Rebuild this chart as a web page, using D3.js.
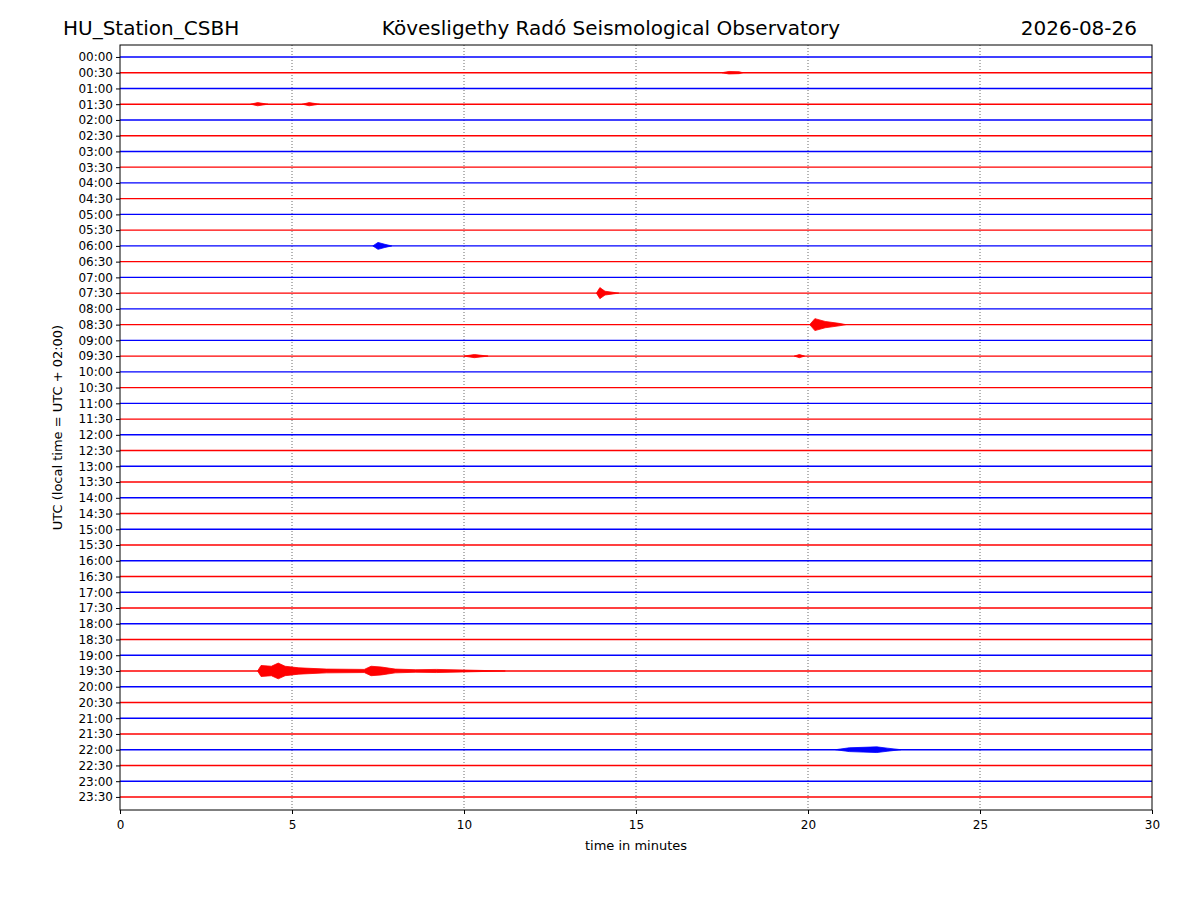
<!DOCTYPE html>
<html>
<head>
<meta charset="utf-8">
<script src="https://cdn.jsdelivr.net/npm/d3@7"></script>
<style>
  body { margin: 0; background: #fff; }
  text { font-family: "DejaVu Sans", sans-serif; }
</style>
</head>
<body>
<svg id="chart" width="1200" height="900"></svg>
<script>
// row labels, every 30 minutes
var rowLabels = d3.range(48).map(function (i) {
    var h = Math.floor(i / 2), m = (i % 2) * 30;
    return (h < 10 ? "0" : "") + h + ":" + (m ? "30" : "00");
});
var rowColors = ["blue", "red"];
var xTicks = [0, 5, 10, 15, 20, 25, 30];

// event envelopes: row, [minute, half amplitude in row units]
var events = [
    { row: 1,  env: [[17.5, 0], [17.7, 0.08], [18.0, 0.06], [18.1, 0]] },
    { row: 3,  env: [[3.8, 0], [4.0, 0.1], [4.3, 0]] },
    { row: 3,  env: [[5.3, 0], [5.5, 0.1], [5.8, 0]] },
    { row: 12, env: [[7.35, 0], [7.5, 0.22], [7.7, 0.1], [7.9, 0]] },
    { row: 15, env: [[13.85, 0], [13.95, 0.35], [14.1, 0.12], [14.5, 0]] },
    { row: 17, env: [[20.05, 0], [20.2, 0.38], [20.5, 0.2], [20.9, 0.08], [21.1, 0]] },
    { row: 19, env: [[10.0, 0], [10.3, 0.1], [10.7, 0]] },
    { row: 19, env: [[19.6, 0], [19.75, 0.1], [19.9, 0]] },
    { row: 39, env: [[4.0, 0], [4.1, 0.35], [4.4, 0.3], [4.6, 0.5], [4.8, 0.3], [5.2, 0.2],
                     [6.0, 0.12], [7.1, 0.1], [7.3, 0.3], [7.6, 0.25], [8.0, 0.12],
                     [8.6, 0.08], [9.2, 0.1], [10.0, 0.06], [11.2, 0]] },
    { row: 44, env: [[20.8, 0], [21.2, 0.12], [21.6, 0.15], [22.0, 0.18], [22.3, 0.1], [22.7, 0]] }
];

var svg = d3.select("#chart");
var pLeft = 120, pRight = 1152, pTop = 45, pBottom = 810;

var x = d3.scaleLinear().domain([0, 30]).range([pLeft, pRight]);
var y = d3.scaleLinear().domain([-0.76, 47.83]).range([pTop, pBottom]);

// vertical dotted grid
svg.append("g").selectAll("line")
    .data(xTicks.slice(1, -1))
    .join("line")
    .attr("x1", d => x(d)).attr("x2", d => x(d))
    .attr("y1", pTop).attr("y2", pBottom)
    .attr("stroke", "#444").attr("stroke-width", 0.8)
    .attr("stroke-dasharray", "1,2");

// traces
svg.append("g").selectAll("line")
    .data(rowLabels)
    .join("line")
    .attr("x1", pLeft).attr("x2", pRight)
    .attr("y1", (d, i) => y(i)).attr("y2", (d, i) => y(i))
    .attr("stroke", (d, i) => rowColors[i % 2])
    .attr("stroke-width", 1.4);

// event bursts
var rowH = y(1) - y(0);
var area = d3.area()
    .x(d => x(d[0]))
    .y0(d => -d[1] * rowH)
    .y1(d => d[1] * rowH);

svg.append("g").selectAll("path")
    .data(events)
    .join("path")
    .attr("transform", d => "translate(0," + y(d.row) + ")")
    .attr("d", d => area(d.env))
    .attr("fill", d => rowColors[d.row % 2])
    .attr("stroke", d => rowColors[d.row % 2])
    .attr("stroke-width", 0.8);

// frame
svg.append("rect")
    .attr("x", pLeft).attr("y", pTop)
    .attr("width", pRight - pLeft).attr("height", pBottom - pTop)
    .attr("fill", "none").attr("stroke", "#000").attr("stroke-width", 1);

// axes
var xAxis = svg.append("g")
    .attr("transform", "translate(0," + pBottom + ")")
    .call(d3.axisBottom(x).tickValues(xTicks).tickSize(4).tickPadding(6));
var yAxis = svg.append("g")
    .attr("transform", "translate(" + pLeft + ",0)")
    .call(d3.axisLeft(y).tickValues(d3.range(48)).tickFormat(i => rowLabels[i]).tickSize(4).tickPadding(3));
[xAxis, yAxis].forEach(function (a) {
    a.select(".domain").remove();
    a.attr("font-size", 12).attr("font-family", "DejaVu Sans");
    a.selectAll("text").attr("fill", "#000");
});

// titles
svg.append("text").attr("x", 63).attr("y", 35).style("font-size", "20px").text("HU_Station_CSBH");
svg.append("text").attr("x", 611).attr("y", 35).attr("text-anchor", "middle").style("font-size", "20px")
    .text("Kövesligethy Radó Seismological Observatory");
svg.append("text").attr("x", 1137).attr("y", 35).attr("text-anchor", "end").style("font-size", "20px").text("2026-08-26");

svg.append("text").attr("x", (pLeft + pRight) / 2).attr("y", 850).attr("text-anchor", "middle")
    .style("font-size", "13px").text("time in minutes");
svg.append("text").attr("transform", "translate(62," + ((pTop + pBottom) / 2) + ") rotate(-90)")
    .attr("text-anchor", "middle").style("font-size", "13px").text("UTC (local time = UTC + 02:00)");
</script>
</body>
</html>
